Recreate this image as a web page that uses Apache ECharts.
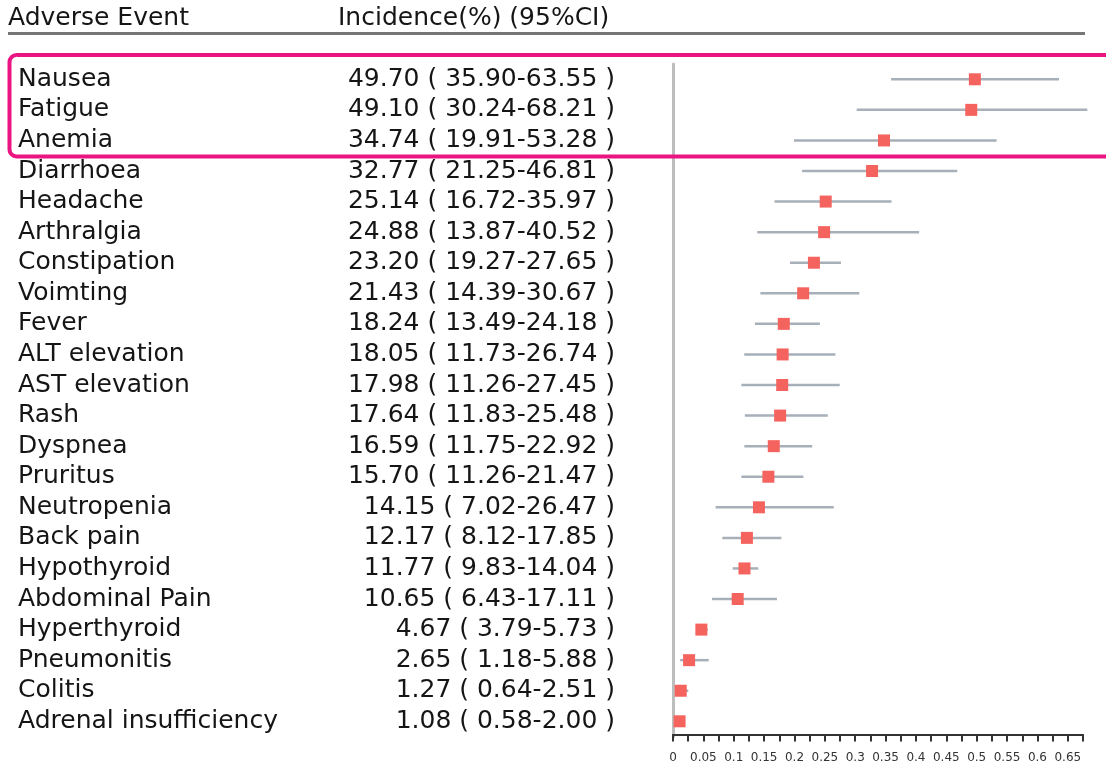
<!DOCTYPE html>
<html>
<head>
<meta charset="utf-8">
<script src="https://cdn.jsdelivr.net/npm/echarts@6/dist/echarts.min.js"></script>
<style>
html,body{margin:0;padding:0;background:#fff;}
#chart{width:1106px;height:768px;}
</style>
</head>
<body>
<div id="chart"></div>
<script>
const events = ['Nausea','Fatigue','Anemia','Diarrhoea','Headache','Arthralgia','Constipation','Voimting','Fever','ALT elevation','AST elevation','Rash','Dyspnea','Pruritus','Neutropenia','Back pain','Hypothyroid','Abdominal Pain','Hyperthyroid','Pneumonitis','Colitis','Adrenal insufficiency'];
const incidence = [49.70,49.10,34.74,32.77,25.14,24.88,23.20,21.43,18.24,18.05,17.98,17.64,16.59,15.70,14.15,12.17,11.77,10.65,4.67,2.65,1.27,1.08];
const lower = [35.90,30.24,19.91,21.25,16.72,13.87,19.27,14.39,13.49,11.73,11.26,11.83,11.75,11.26,7.02,8.12,9.83,6.43,3.79,1.18,0.64,0.58];
const upper = [63.55,68.21,53.28,46.81,35.97,40.52,27.65,30.67,24.18,26.74,27.45,25.48,22.92,21.47,26.47,17.85,14.04,17.11,5.73,5.88,2.51,2.00];
const xTickLabels = ['0','0.05','0.1','0.15','0.2','0.25','0.3','0.35','0.4','0.45','0.5','0.55','0.6','0.65'];

const ciText = events.map((e,i)=>`${incidence[i].toFixed(2)} ( ${lower[i].toFixed(2)}-${upper[i].toFixed(2)} )`);
const font = 'DejaVu Sans';
const chart = echarts.init(document.getElementById('chart'), null, {renderer:'canvas'});

const option = {
  backgroundColor:'#ffffff',
  animation:false,
  grid:{left:673, right:23, top:64, bottom:31.4},
  xAxis:{
    type:'value', min:0, max:0.675, interval:0.025, offset:-2,
    axisLine:{show:true, lineStyle:{color:'#333', width:2}},
    axisTick:{show:true, length:7, lineStyle:{color:'#333', width:2}},
    splitLine:{show:false},
    axisLabel:{
      fontFamily:font, fontSize:12, color:'#333', margin:17,
      showMaxLabel:true, showMinLabel:true,
      formatter:function(v){
        const k = Math.round(v/0.025);
        if (k % 2) return '';
        return xTickLabels[k/2] || '';
      }
    }
  },
  yAxis:[
    {
      type:'category', data:events, inverse:true, position:'left',
      axisLine:{show:true, lineStyle:{color:'#BDBDBD', width:3}},
      axisTick:{show:false}, splitLine:{show:false},
      axisLabel:{fontFamily:font, fontSize:25, color:'#151515', align:'left', margin:655, interval:0}
    },
    {
      type:'category', data:ciText, inverse:true, position:'left', offset:0,
      axisLine:{show:false}, axisTick:{show:false}, splitLine:{show:false},
      axisLabel:{fontFamily:font, fontSize:25, color:'#151515', align:'right', margin:58, interval:0}
    }
  ],
  graphic:[
    {type:'text', left:8, top:6, style:{text:'Adverse Event', font:'25px "DejaVu Sans"', fill:'#151515'}},
    {type:'text', left:338, top:6, style:{text:'Incidence(%) (95%CI)', font:'25px "DejaVu Sans"', fill:'#151515'}},
    {type:'line', shape:{x1:8, y1:33.5, x2:1085, y2:33.5}, style:{stroke:'#767676', lineWidth:3}},
    {type:'rect', z:100, shape:{x:9.5, y:55, width:1110, height:101.5, r:7}, style:{fill:null, stroke:'#EA1483', lineWidth:4}}
  ],
  series:[
    {
      type:'custom',
      data: events.map((e,i)=>[lower[i]/100, upper[i]/100, i]),
      renderItem:function(params, api){
        const p1 = api.coord([api.value(0), api.value(2)]);
        const p2 = api.coord([api.value(1), api.value(2)]);
        return {type:'line', shape:{x1:p1[0], y1:p1[1], x2:p2[0], y2:p2[1]}, style:{stroke:'#A7AFB8', lineWidth:2.5}};
      },
      encode:{x:[0,1], y:2},
      z:2
    },
    {
      type:'scatter',
      data: events.map((e,i)=>[incidence[i]/100, i]),
      symbol:'rect', symbolSize:12,
      itemStyle:{color:'#F5635E', opacity:1},
      z:3
    }
  ]
};
chart.setOption(option);
</script>
</body>
</html>
